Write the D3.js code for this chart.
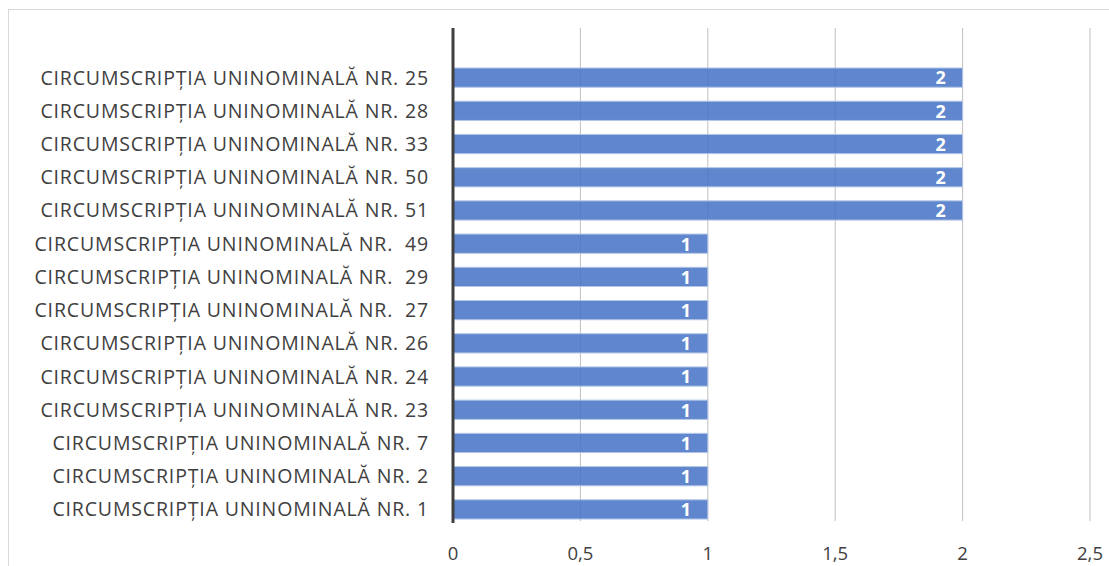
<!DOCTYPE html>
<html lang="ro">
<head>
    <meta charset="UTF-8">
    <title>Circumscripții uninominale</title>
    <script src="https://d3js.org/d3.v7.min.js"></script>
    <style>
        body {
            margin: 0;
            background: #ffffff;
            font-family: "Open Sans", "Noto Sans", sans-serif;
        }
        .cat-label {
            font-size: 19.5px;
            letter-spacing: 0.85px;
            fill: #404040;
            white-space: pre;
        }
        .tick-label {
            font-size: 18.5px;
            fill: #404040;
        }
        .value-label {
            font-size: 18px;
            font-weight: bold;
            fill: #ffffff;
        }
    </style>
</head>
<body>
    <svg id="chart" width="1109" height="566"></svg>

    <script>
        const categories = [
            "CIRCUMSCRIPȚIA UNINOMINALĂ NR. 25",
            "CIRCUMSCRIPȚIA UNINOMINALĂ NR. 28",
            "CIRCUMSCRIPȚIA UNINOMINALĂ NR. 33",
            "CIRCUMSCRIPȚIA UNINOMINALĂ NR. 50",
            "CIRCUMSCRIPȚIA UNINOMINALĂ NR. 51",
            "CIRCUMSCRIPȚIA UNINOMINALĂ NR.  49",
            "CIRCUMSCRIPȚIA UNINOMINALĂ NR.  29",
            "CIRCUMSCRIPȚIA UNINOMINALĂ NR.  27",
            "CIRCUMSCRIPȚIA UNINOMINALĂ NR. 26",
            "CIRCUMSCRIPȚIA UNINOMINALĂ NR. 24",
            "CIRCUMSCRIPȚIA UNINOMINALĂ NR. 23",
            "CIRCUMSCRIPȚIA UNINOMINALĂ NR. 7",
            "CIRCUMSCRIPȚIA UNINOMINALĂ NR. 2",
            "CIRCUMSCRIPȚIA UNINOMINALĂ NR. 1"
        ];
        const values = [2, 2, 2, 2, 2, 1, 1, 1, 1, 1, 1, 1, 1, 1];
        const ticks = [0, 0.5, 1, 1.5, 2, 2.5];

        const data = categories.map((c, i) => ({ name: c, value: values[i] }));

        const svg = d3.select("#chart");

        // chart frame
        svg.append("rect")
            .attr("x", 8.5)
            .attr("y", 9.5)
            .attr("width", 1300)
            .attr("height", 700)
            .attr("fill", "none")
            .attr("stroke", "#d9d9d9");

        const x = d3.scaleLinear()
            .domain([0, 2.5])
            .range([453, 1090]);

        const y = d3.scaleBand()
            .domain(categories)
            .range([61, 526])
            .paddingInner(0.42)
            .paddingOuter(0.21);

        const gridTop = 28, gridBottom = 521;

        // vertical gridlines
        svg.append("g")
            .selectAll("line")
            .data(ticks.slice(1))
            .join("line")
            .attr("x1", d => x(d))
            .attr("x2", d => x(d))
            .attr("y1", gridTop)
            .attr("y2", gridBottom)
            .attr("stroke", "#bfbfbf")
            .attr("stroke-width", 1);

        // bars
        svg.append("g")
            .selectAll("rect")
            .data(data)
            .join("rect")
            .attr("x", x(0))
            .attr("y", d => y(d.name))
            .attr("width", d => x(d.value) - x(0))
            .attr("height", y.bandwidth())
            .attr("fill", "#4472c4")
            .attr("fill-opacity", 0.85)
            .attr("stroke", "#b4c7e7")
            .attr("stroke-width", 1);

        // value labels
        svg.append("g")
            .selectAll("text")
            .data(data)
            .join("text")
            .attr("class", "value-label")
            .attr("x", d => x(d.value) - 22)
            .attr("y", d => y(d.name) + y.bandwidth() / 2)
            .attr("dy", "0.38em")
            .attr("text-anchor", "middle")
            .text(d => d.value);

        // vertical axis line
        svg.append("line")
            .attr("x1", x(0))
            .attr("x2", x(0))
            .attr("y1", gridTop)
            .attr("y2", gridBottom + 2)
            .attr("stroke", "#404040")
            .attr("stroke-width", 3);

        // category labels
        svg.append("g")
            .selectAll("text")
            .data(categories)
            .join("text")
            .attr("class", "cat-label")
            .attr("x", 429)
            .attr("y", d => y(d) + y.bandwidth() / 2)
            .attr("dy", "0.36em")
            .attr("text-anchor", "end")
            .text(d => d);

        // x tick labels
        svg.append("g")
            .selectAll("text")
            .data(ticks)
            .join("text")
            .attr("class", "tick-label")
            .attr("x", d => x(d))
            .attr("y", 553)
            .attr("dy", "0.36em")
            .attr("text-anchor", "middle")
            .text(d => String(d).replace(".", ","));
    </script>
</body>
</html>
